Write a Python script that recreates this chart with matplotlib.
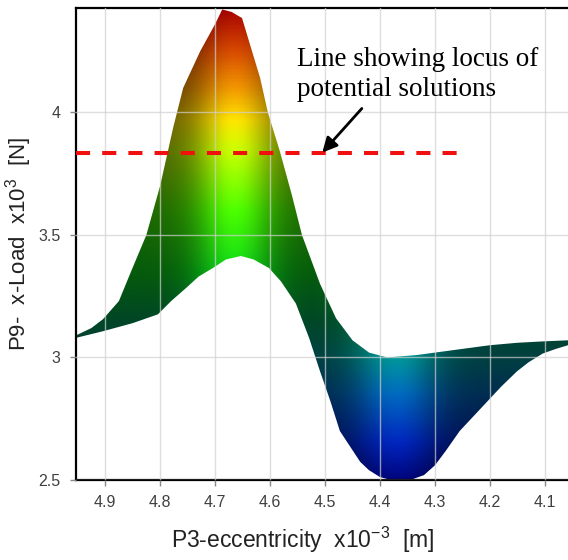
import numpy as np
import matplotlib
matplotlib.use('Agg')
import matplotlib.pyplot as plt
from matplotlib.colors import LinearSegmentedColormap, Normalize

# Tepi atas siluet permukaan (x dalam urutan menurun, sumbu dibalik)
top_x = [4.953, 4.925, 4.904, 4.875, 4.853, 4.825, 4.80, 4.776, 4.758, 4.727, 4.70, 4.687,
         4.67, 4.651, 4.618, 4.604, 4.582, 4.56, 4.542, 4.509, 4.48, 4.45, 4.42, 4.387,
         4.333, 4.25, 4.20, 4.15, 4.10, 4.058]
top_y = [3.09, 3.12, 3.156, 3.23, 3.35, 3.50, 3.70, 3.94, 4.10, 4.25, 4.36, 4.42,
         4.41, 4.385, 4.14, 4.00, 3.84, 3.66, 3.50, 3.30, 3.16, 3.07, 3.02, 3.00,
         3.01, 3.035, 3.05, 3.06, 3.066, 3.07]

# Tepi bawah siluet permukaan
bot_x = [4.953, 4.904, 4.85, 4.804, 4.78, 4.753, 4.73, 4.704, 4.68, 4.653, 4.63, 4.602,
         4.58, 4.553, 4.529, 4.509, 4.49, 4.473, 4.436, 4.42, 4.40, 4.385, 4.37, 4.345,
         4.32, 4.30, 4.28, 4.255, 4.23, 4.205, 4.18, 4.151, 4.13, 4.104, 4.08, 4.058]
bot_y = [3.08, 3.107, 3.14, 3.176, 3.23, 3.283, 3.33, 3.365, 3.40, 3.414, 3.40, 3.365,
         3.31, 3.22, 3.08, 2.943, 2.82, 2.70, 2.574, 2.54, 2.512, 2.503, 2.50, 2.50,
         2.52, 2.56, 2.62, 2.70, 2.76, 2.82, 2.88, 2.943, 2.98, 3.016, 3.035, 3.05]

# Garis lokus solusi
locus_y = 3.836
locus_x = [4.953, 4.24]

x_ticks = [4.9, 4.8, 4.7, 4.6, 4.5, 4.4, 4.3, 4.2, 4.1]
y_ticks = [2.5, 3, 3.5, 4]
x_lim = (4.953, 4.058)
y_lim = (2.5, 4.426)

# Peta warna menurut tinggi (mirip jet)
nodes = [(2.5, (0.0, 0.02, 0.5)), (2.65, (0.0, 0.15, 0.75)), (2.85, (0.0, 0.42, 0.75)),
         (3.0, (0.0, 0.6, 0.6)), (3.15, (0.0, 0.65, 0.35)), (3.35, (0.05, 0.85, 0.1)),
         (3.6, (0.3, 1.0, 0.0)), (3.85, (0.8, 1.0, 0.0)), (3.97, (1.0, 0.9, 0.0)),
         (4.1, (0.95, 0.6, 0.0)), (4.25, (0.85, 0.3, 0.0)), (4.43, (0.65, 0.0, 0.0))]
lo, hi = nodes[0][0], nodes[-1][0]
cmap = LinearSegmentedColormap.from_list('surf', [((v - lo) / (hi - lo), c) for v, c in nodes])

fig = plt.figure(figsize=(5.68, 5.60), dpi=100)
ax = fig.add_axes([76 / 568, 80 / 560, 492 / 568, 472 / 560])

# Gradien warna + bayangan, dipotong oleh siluet
gx = np.linspace(x_lim[1], x_lim[0], 400)
gy = np.linspace(y_lim[0], 4.43, 400)
GX, GY = np.meshgrid(gx, gy)
rgb = cmap(Normalize(lo, hi)(GY))[..., :3]
shade = 0.42 + 0.58 * np.maximum(np.exp(-((GX - 4.665) / 0.07) ** 2),
                                  np.exp(-((GX - 4.37) / 0.075) ** 2))
rgb = rgb * shade[..., None]
im = ax.imshow(rgb, origin='lower', extent=[gx[0], gx[-1], gy[0], gy[-1]],
               aspect='auto', zorder=1, interpolation='bilinear')
poly = ax.fill(top_x + bot_x[::-1], top_y + bot_y[::-1], facecolor='none',
               edgecolor='none', zorder=1)[0]
im.set_clip_path(poly)

# Garis putus-putus merah
ax.plot(locus_x, [locus_y, locus_y], color='#f01010', lw=2.9, dashes=(3.5, 3), zorder=4)

ax.set_xlim(*x_lim)
ax.set_ylim(*y_lim)
ax.set_xticks(x_ticks)
ax.set_yticks(y_ticks)
ax.set_xticklabels([str(t) for t in x_ticks])
ax.set_yticklabels(['2.5', '3', '3.5', '4'])
ax.set_axisbelow(False)
ax.grid(True, color='#d0d0d0', lw=1, alpha=0.7, zorder=2)
ax.tick_params(direction='out', length=4, width=1, color='#888888',
               labelcolor='#404040', labelsize=11.5, pad=7)
for lab in ax.get_xticklabels() + ax.get_yticklabels():
    lab.set_family('Liberation Sans')
for s in ['top', 'left', 'bottom']:
    ax.spines[s].set_linewidth(1.6)
    ax.spines[s].set_color('black')
ax.spines['right'].set_visible(False)

ax.set_xlabel('P3-eccentricity  x10$^{\\mathregular{-3}}$  [m]', fontsize=16.5,
              family='Liberation Sans', color='#222222')
ax.xaxis.set_label_coords(0.461, -0.095)
ax.set_ylabel('P9-  x-Load  x10$^{\\mathregular{3}}$  [N]', fontsize=16,
              family='Liberation Sans', color='#222222')
ax.yaxis.set_label_coords(-0.085, 0.5)

# Anotasi
ax.text(4.9 - (297 - 105) / 550, 4.155, 'Line showing locus of\npotential solutions',
        fontsize=19.5, family='Liberation Serif', va='center', ha='left',
        linespacing=1.25, zorder=5)
ax.annotate('', xy=(4.505, locus_y), xytext=(4.433, 4.016), zorder=5,
            arrowprops=dict(arrowstyle='-|>', color='black', lw=2,
                            mutation_scale=22, shrinkA=0, shrinkB=0))

plt.savefig('out.png', dpi=100)
